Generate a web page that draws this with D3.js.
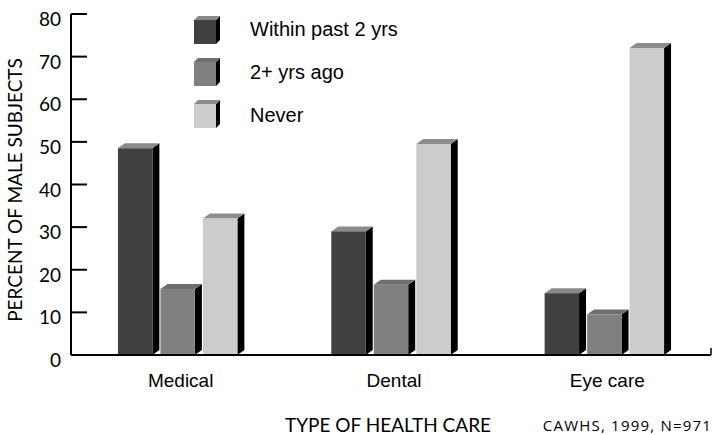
<!DOCTYPE html>
<html>
<head>
<meta charset="utf-8">
<script src="https://cdn.jsdelivr.net/npm/d3@7"></script>
<style>
  html, body { margin: 0; padding: 0; background: #fff; }
  svg { display: block; }
</style>
</head>
<body>
<svg id="chart" width="712" height="435"></svg>
<script>
// Health care visits among male subjects, by type of care
const categories = ["Medical", "Dental", "Eye care"];
const seriesNames = ["Within past 2 yrs", "2+ yrs ago", "Never"];
const withinPast2 = [48.5, 29, 14.5];
const twoPlusAgo = [15.5, 16.5, 9.5];
const never = [32, 49.5, 72];
const yTicks = [0, 10, 20, 30, 40, 50, 60, 70, 80];

const seriesValues = [withinPast2, twoPlusAgo, never];
const frontColors = ["#404040", "#808080", "#cccccc"];
const topColors = ["#8a8a8a", "#6e6e6e", "#8c8c8c"];
const sideColor = "#000";

const svg = d3.select("#chart");
const left = 71, right = 711, baseY = 355, topY = 14;
const depthX = 7, depthY = 5;

const y = d3.scaleLinear().domain([0, 80]).range([baseY, topY]);
const x0 = d3.scaleBand().domain(categories).range([left, right]).padding(0);
const groupW = 127.5;
const x1 = d3.scaleBand().domain(seriesNames).range([0, groupW])
  .paddingInner(0.19).paddingOuter(0.095);

// Bars with a simple 3D look: front face, lit top, black side
const rows = [];
categories.forEach((c, ci) => {
  seriesNames.forEach((s, si) => {
    rows.push({ cat: c, series: s, si, value: seriesValues[si][ci] });
  });
});

const bars = svg.append("g");
rows.forEach(d => {
  const gx = x0(d.cat) + x0.bandwidth() / 2 - groupW / 2;
  const bx = gx + x1(d.series);
  const bw = x1.bandwidth();
  const by = y(d.value);
  const g = bars.append("g");
  g.append("polygon")
    .attr("points", [[bx + bw, by], [bx + bw + depthX, by - depthY],
      [bx + bw + depthX, baseY - depthY], [bx + bw, baseY]].join(" "))
    .attr("fill", sideColor);
  g.append("polygon")
    .attr("points", [[bx, by], [bx + depthX, by - depthY],
      [bx + bw + depthX, by - depthY], [bx + bw, by]].join(" "))
    .attr("fill", topColors[d.si]);
  g.append("rect")
    .attr("x", bx).attr("y", by).attr("width", bw).attr("height", baseY - by)
    .attr("fill", frontColors[d.si]);
});

// Y axis with inward ticks
const yAxis = svg.append("g");
yAxis.append("line").attr("x1", left).attr("x2", left)
  .attr("y1", topY).attr("y2", baseY).attr("stroke", "#000").attr("stroke-width", 2);
yTicks.forEach(t => {
  yAxis.append("line").attr("x1", left).attr("x2", left + 16)
    .attr("y1", y(t)).attr("y2", y(t)).attr("stroke", "#000").attr("stroke-width", 2);
  yAxis.append("text").attr("x", 61).attr("y", y(t) + 12)
    .attr("text-anchor", "end")
    .style("font-family", "Lato, 'Open Sans', sans-serif").style("font-size", "19px")
    .attr("fill", "#000").text(t);
});

// X axis baseline
svg.append("line").attr("x1", left).attr("x2", right)
  .attr("y1", baseY).attr("y2", baseY).attr("stroke", "#000").attr("stroke-width", 2);
svg.append("line").attr("x1", right).attr("x2", right)
  .attr("y1", baseY).attr("y2", baseY - 7).attr("stroke", "#000").attr("stroke-width", 1.5);

// Category labels
categories.forEach(c => {
  svg.append("text").attr("x", x0(c) + x0.bandwidth() / 2 + 3).attr("y", 387)
    .attr("text-anchor", "middle")
    .style("font-family", "'Liberation Sans', Arial, sans-serif").style("font-size", "19px")
    .attr("fill", "#000").text(c);
});

// Axis titles and source note
svg.append("text")
  .attr("transform", "translate(22,190) rotate(-90)")
  .attr("text-anchor", "middle")
  .style("font-family", "Lato, 'Open Sans', sans-serif").style("font-size", "19px")
  .attr("fill", "#000").text("PERCENT OF MALE SUBJECTS");
svg.append("text").attr("x", 388).attr("y", 432).attr("text-anchor", "middle")
  .style("font-family", "Lato, 'Open Sans', sans-serif").style("font-size", "19px")
  .attr("fill", "#000").text("TYPE OF HEALTH CARE");
svg.append("text").attr("x", 712).attr("y", 431).attr("text-anchor", "end")
  .style("font-family", "'Open Sans', sans-serif").style("font-size", "15px")
  .style("letter-spacing", "1.2px")
  .attr("fill", "#000").text("CAWHS, 1999, N=971");

// Legend
const legend = svg.append("g");
seriesNames.forEach((s, i) => {
  const lx = 194, ly = 20 + i * 42, w = 22, h = 24, dx = 4, dy = 4;
  legend.append("polygon")
    .attr("points", [[lx + w, ly], [lx + w + dx, ly - dy], [lx + w + dx, ly + h - dy], [lx + w, ly + h]].join(" "))
    .attr("fill", sideColor);
  legend.append("polygon")
    .attr("points", [[lx, ly], [lx + dx, ly - dy], [lx + w + dx, ly - dy], [lx + w, ly]].join(" "))
    .attr("fill", topColors[i]);
  legend.append("rect").attr("x", lx).attr("y", ly).attr("width", w).attr("height", h)
    .attr("fill", frontColors[i]);
  legend.append("text").attr("x", 250).attr("y", 36 + i * 43)
    .style("font-family", "'Liberation Sans', Arial, sans-serif").style("font-size", "20px")
    .attr("fill", "#000").text(s);
});
</script>
</body>
</html>
